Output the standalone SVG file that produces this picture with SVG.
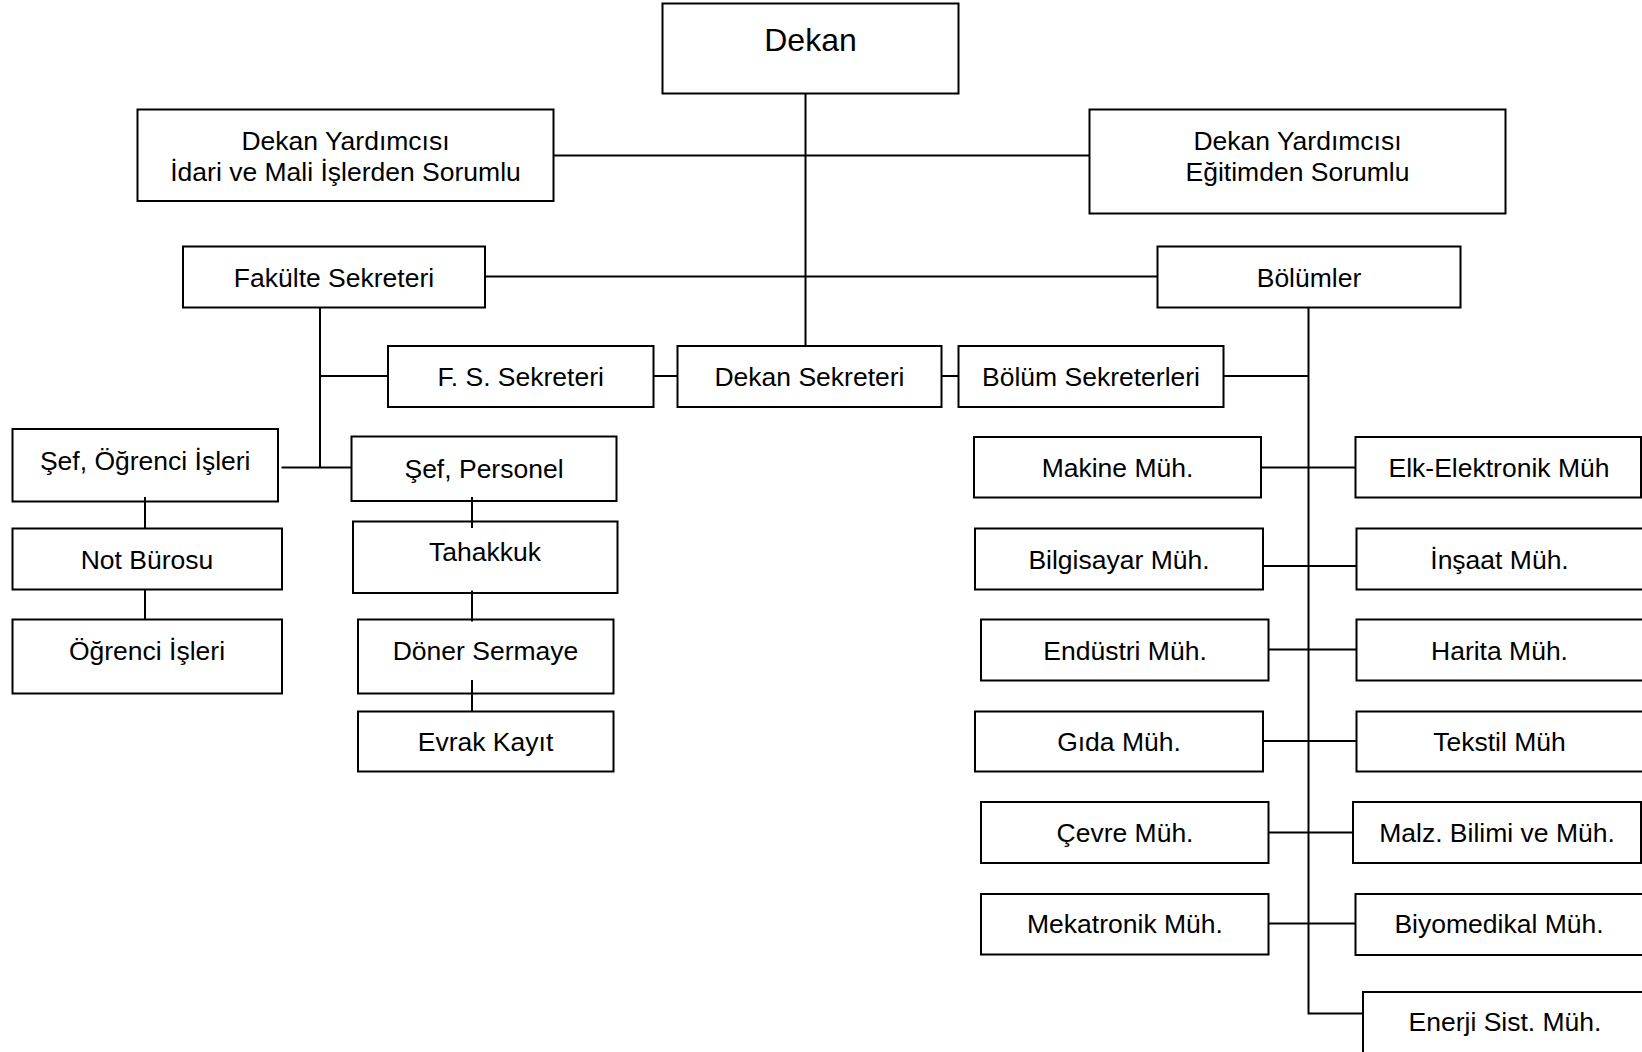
<svg xmlns="http://www.w3.org/2000/svg" width="1642" height="1052" viewBox="0 0 1642 1052">
<style>
.box{fill:#fff;stroke:#000;stroke-width:2}
.t{font-family:"Liberation Sans",Arial,sans-serif;font-size:26.5px;text-anchor:middle;fill:#000}
.big{font-size:32px}
.c path{fill:none;stroke:#000;stroke-width:2}
</style>
<rect width="1642" height="1052" fill="#fff"/>
<g id="nodes">
<g id="dekan"><rect class="box" x="662.5" y="3.5" width="296" height="90"/><text class="t big" x="810.5" y="51">Dekan</text></g>
<g id="dy-idari"><rect class="box" x="137.5" y="109.5" width="416" height="91.5"/><text class="t" x="345.5" y="150">Dekan Yardımcısı</text><text class="t" x="345.5" y="181">İdari ve Mali İşlerden Sorumlu</text></g>
<g id="dy-egitim"><rect class="box" x="1089.5" y="109.5" width="416" height="104"/><text class="t" x="1297.5" y="150">Dekan Yardımcısı</text><text class="t" x="1297.5" y="181">Eğitimden Sorumlu</text></g>
<g id="fakulte"><rect class="box" x="183" y="246.5" width="302" height="61"/><text class="t" x="334" y="287">Fakülte Sekreteri</text></g>
<g id="bolumler"><rect class="box" x="1157.5" y="246.5" width="303" height="61"/><text class="t" x="1309" y="287">Bölümler</text></g>
<g id="fs-sek"><rect class="box" x="388" y="346" width="265.5" height="61"/><text class="t" x="520.7" y="385.5">F. S. Sekreteri</text></g>
<g id="dekan-sek"><rect class="box" x="677.5" y="346" width="264" height="61"/><text class="t" x="809.5" y="385.5">Dekan Sekreteri</text></g>
<g id="bolum-sek"><rect class="box" x="958.5" y="346" width="265" height="61"/><text class="t" x="1091" y="385.5">Bölüm Sekreterleri</text></g>
<g id="sef-ogr"><rect class="box" x="12.5" y="429" width="265.5" height="72.5"/><text class="t" x="145.2" y="470">Şef, Öğrenci İşleri</text></g>
<g id="sef-pers"><rect class="box" x="351.5" y="436.5" width="265" height="64.5"/><text class="t" x="484" y="477.5">Şef, Personel</text></g>
<g id="not-buro"><rect class="box" x="12.5" y="528.5" width="269.5" height="61"/><text class="t" x="147" y="568.5">Not Bürosu</text></g>
<g id="ogr-isl"><rect class="box" x="12.5" y="619.5" width="269.5" height="74"/><text class="t" x="147" y="659.6">Öğrenci İşleri</text></g>
<g id="tahakkuk"><rect class="box" x="353" y="521.5" width="264.5" height="71.5"/><text class="t" x="485" y="561">Tahakkuk</text></g>
<g id="doner"><rect class="box" x="358" y="619.5" width="255.5" height="74"/><text class="t" x="485.5" y="659.6">Döner Sermaye</text></g>
<g id="evrak"><rect class="box" x="358" y="711.5" width="255.5" height="60"/><text class="t" x="485.5" y="750.7">Evrak Kayıt</text></g>
<g id="makine"><rect class="box" x="974" y="437" width="287" height="60.5"/><text class="t" x="1117.5" y="476.5">Makine Müh.</text></g>
<g id="elk"><rect class="box" x="1355.5" y="437" width="285.5" height="60.5"/><text class="t" x="1499" y="476.5">Elk-Elektronik Müh</text></g>
<g id="bilgisayar"><rect class="box" x="975" y="528.5" width="288" height="61"/><text class="t" x="1119" y="568.5">Bilgisayar Müh.</text></g>
<g id="insaat"><rect class="box" x="1356.5" y="528.5" width="292" height="61"/><text class="t" x="1499.5" y="568.5">İnşaat Müh.</text></g>
<g id="endustri"><rect class="box" x="981" y="619.5" width="287.5" height="61"/><text class="t" x="1125" y="659.6">Endüstri Müh.</text></g>
<g id="harita"><rect class="box" x="1356.5" y="619.5" width="292" height="61"/><text class="t" x="1499.5" y="659.6">Harita Müh.</text></g>
<g id="gida"><rect class="box" x="975" y="711.5" width="288" height="60"/><text class="t" x="1119" y="750.7">Gıda Müh.</text></g>
<g id="tekstil"><rect class="box" x="1356.5" y="711.5" width="292" height="60"/><text class="t" x="1499.5" y="750.7">Tekstil Müh</text></g>
<g id="cevre"><rect class="box" x="981" y="802" width="287.5" height="61"/><text class="t" x="1125" y="841.8">Çevre Müh.</text></g>
<g id="malz"><rect class="box" x="1353" y="802" width="288" height="61"/><text class="t" x="1497" y="841.8">Malz. Bilimi ve Müh.</text></g>
<g id="mekatronik"><rect class="box" x="981" y="894" width="287.5" height="60.5"/><text class="t" x="1125" y="933">Mekatronik Müh.</text></g>
<g id="biyomedikal"><rect class="box" x="1355.5" y="894" width="292" height="61"/><text class="t" x="1499" y="933">Biyomedikal Müh.</text></g>
<g id="enerji"><rect class="box" x="1363" y="992" width="290" height="70"/><text class="t" x="1505" y="1031">Enerji Sist. Müh.</text></g>
</g>
<g id="connectors" class="c">
<path d="M805.5 93.5V346"/>
<path d="M553.5 155.5H1089.5"/>
<path d="M485 276.5H1157.5"/>
<path d="M320 307.5V467.5"/>
<path d="M320 376H388"/>
<path d="M653.5 376H677.5"/>
<path d="M941.5 376H958.5"/>
<path d="M1223.5 376H1308.5"/>
<path d="M281.5 467.5H351.5"/>
<path d="M145 497V528.5"/>
<path d="M145 589.5V619.5"/>
<path d="M472 497V528"/>
<path d="M472 590.5V621.5"/>
<path d="M472 680V711.5"/>
<path d="M1308.5 307.5V1013.5H1363"/>
<path d="M1261 467.5H1355.5"/>
<path d="M1263 566H1356.5"/>
<path d="M1268.5 649.5H1356.5"/>
<path d="M1263 741H1356.5"/>
<path d="M1268.5 832.5H1353"/>
<path d="M1268.5 923.5H1355.5"/>
</g>
</svg>
